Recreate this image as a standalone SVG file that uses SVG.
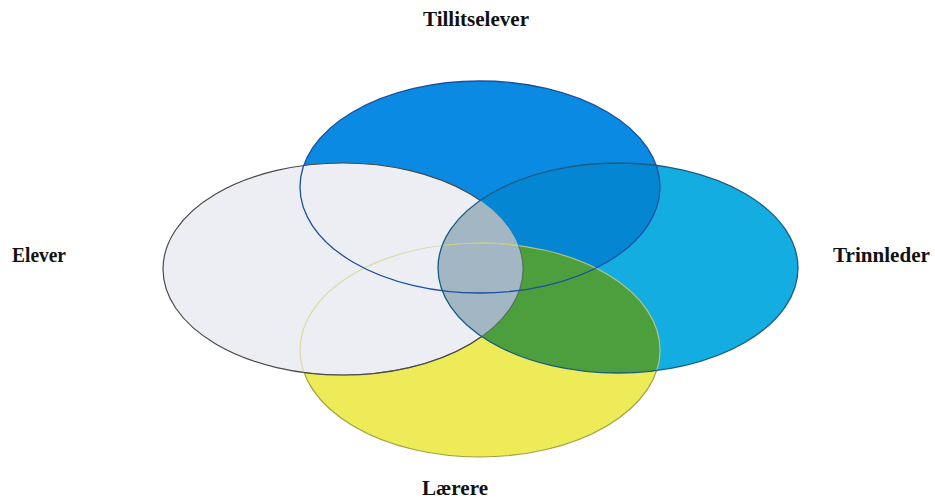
<svg xmlns="http://www.w3.org/2000/svg" width="935" height="501" viewBox="0 0 935 501">
<style>
  .lbl { font-family: "Liberation Serif", "DejaVu Serif", serif; font-weight: bold; font-size: 20px; fill: #111; }
</style>
<defs>
  <clipPath id="cBlue"><ellipse cx="480" cy="187" rx="180" ry="106"/></clipPath>
  <clipPath id="cYellow"><ellipse cx="480" cy="350" rx="180" ry="107"/></clipPath>
  <clipPath id="cWhite"><ellipse cx="343" cy="269" rx="180" ry="106"/></clipPath>
  <clipPath id="cCyan"><ellipse cx="618" cy="268" rx="180" ry="105"/></clipPath>
</defs>
<rect width="935" height="501" fill="#ffffff"/>

<g id="node-tillitselever">
  <ellipse cx="480" cy="187" rx="180" ry="106" fill="#0a8ae2"/>
  <text class="lbl" x="423" y="26" textLength="106" lengthAdjust="spacingAndGlyphs">Tillitselever</text>
</g>
<g id="node-laerere">
  <ellipse cx="480" cy="350" rx="180" ry="107" fill="#eeeb58" stroke="#9fa23e" stroke-width="1.2"/>
  <text class="lbl" x="422" y="495" textLength="66" lengthAdjust="spacingAndGlyphs">Lærere</text>
</g>
<g id="node-elever">
  <ellipse cx="343" cy="269" rx="180" ry="106" fill="#ededf4" stroke="#4a4a4a" stroke-width="1.2"/>
  <text class="lbl" x="12" y="262" textLength="54" lengthAdjust="spacingAndGlyphs">Elever</text>
</g>
<g id="node-trinnleder">
  <ellipse cx="618" cy="268" rx="180" ry="105" fill="#14ade2"/>
  <text class="lbl" x="833" y="262" textLength="97" lengthAdjust="spacingAndGlyphs">Trinnleder</text>
</g>

<g id="overlaps">
  <ellipse cx="618" cy="268" rx="180" ry="105" fill="#0586d2" clip-path="url(#cBlue)"/>
  <ellipse cx="618" cy="268" rx="180" ry="105" fill="#4c9f3c" clip-path="url(#cYellow)"/>
  <ellipse cx="618" cy="268" rx="180" ry="105" fill="#a2b7c3" clip-path="url(#cWhite)"/>
</g>

<g id="outlines" fill="none">
  <ellipse cx="480" cy="350" rx="180" ry="107" stroke="#d6d894" stroke-width="1.2" stroke-opacity="0.85" clip-path="url(#cWhite)"/>
  <ellipse cx="480" cy="350" rx="180" ry="107" stroke="#c4cc7a" stroke-width="1.2" stroke-opacity="0.85" clip-path="url(#cCyan)"/>
  <ellipse cx="480" cy="187" rx="180" ry="106" stroke="#1d4f9e" stroke-width="1.3"/>
  <ellipse cx="343" cy="269" rx="180" ry="106" stroke="#4a4a4a" stroke-width="1.1" clip-path="url(#cYellow)" stroke-opacity="0.6"/>
  <ellipse cx="618" cy="268" rx="180" ry="105" stroke="#1a5c84" stroke-width="1.3"/>
</g>
</svg>
